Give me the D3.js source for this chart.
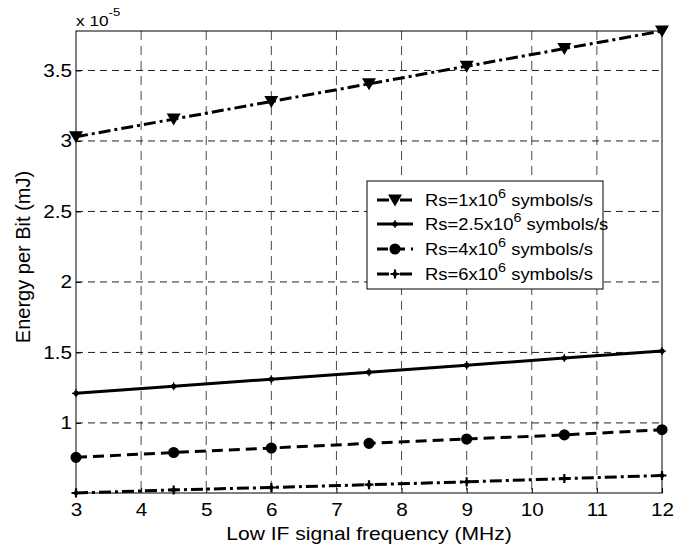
<!DOCTYPE html>
<html><head><meta charset="utf-8">
<script src="https://cdn.jsdelivr.net/npm/d3@7"></script>
<style>body{margin:0;background:#fff;} text{font-family:"Liberation Sans",Arial,sans-serif;fill:#000;}</style>
</head><body><svg id="c" width="695" height="551"></svg>
<script>
const freqs = [3, 4.5, 6, 7.5, 9, 10.5, 12];
const rs1 = [3.03, 3.155, 3.28, 3.405, 3.53, 3.655, 3.78];
const rs25 = [1.21, 1.26, 1.31, 1.36, 1.41, 1.46, 1.51];
const rs4 = [0.756, 0.79, 0.822, 0.855, 0.886, 0.915, 0.952];
const rs6 = [0.503, 0.525, 0.542, 0.562, 0.582, 0.605, 0.627];
const seriesNames = ["Rs=1x10", "Rs=2.5x10", "Rs=4x10", "Rs=6x10"];
const xTicks = [3,4,5,6,7,8,9,10,11,12];
const yTicks = [1,1.5,2,2.5,3,3.5];

const SX = 1.15; // horizontal stretch of the original figure's text
const svg = d3.select("#c");
const L=76, R=662, T=31, B=493;
const allY = rs1.concat(rs25, rs4, rs6);
const x = d3.scaleLinear().domain([3,12]).range([L,R]);
const y = d3.scaleLinear().domain([d3.min(allY), d3.max(allY)]).range([B,T]);

// grid
const g = svg.append("g");
g.selectAll(".vg").data(xTicks.filter(d=>d>3&&d<12)).join("line")
  .attr("x1",d=>x(d)).attr("x2",d=>x(d)).attr("y1",T).attr("y2",B)
  .attr("stroke","#4a4a4a").attr("stroke-width",1).attr("stroke-dasharray","9,6");
g.selectAll(".hg").data(yTicks).join("line")
  .attr("x1",L).attr("x2",R).attr("y1",d=>y(d)).attr("y2",d=>y(d))
  .attr("stroke","#222").attr("stroke-width",1).attr("stroke-dasharray","7,5");

// axes
const xAx = svg.append("g").attr("transform",`translate(0,${B})`)
  .call(d3.axisBottom(x).tickValues(xTicks).tickSize(-5).tickPadding(10).tickFormat(d3.format("d")));
const yAx = svg.append("g").attr("transform",`translate(${L},0)`)
  .call(d3.axisLeft(y).tickValues(yTicks).tickSize(-5).tickPadding(4).tickFormat(d=>String(d)));
[xAx,yAx].forEach(a=>{a.select(".domain").remove(); a.selectAll("line").attr("stroke","#000");
  a.selectAll("text").attr("font-size",18).attr("font-family","Liberation Sans, Arial, sans-serif").attr("fill","#000");});
xAx.selectAll("text").attr("dy","0.72em").attr("transform",`scale(${SX},1)`);
yAx.selectAll("text").attr("x",-4/SX).attr("transform",`scale(${SX},1)`);
svg.append("rect").attr("x",L).attr("y",T).attr("width",R-L).attr("height",B-T)
  .attr("fill","none").attr("stroke","#000").attr("stroke-width",1);

// exponent
const ex = svg.append("text").attr("transform",`translate(${L},26) scale(${SX},1)`).attr("font-size",15);
ex.append("tspan").text("x 10");
ex.append("tspan").attr("dy",-10).attr("font-size",11.5).text("-5");

// labels
svg.append("text").attr("transform",`translate(${(L+R)/2},540) scale(${SX+0.02},1)`).attr("text-anchor","middle").attr("font-size",18)
  .text("Low IF signal frequency (MHz)");
svg.append("text").attr("transform",`translate(29.5,257) rotate(-90)`).attr("text-anchor","middle").attr("font-size",20)
  .text("Energy per Bit (mJ)");

// series
const styles = [
  {data:rs1, dash:"12,4,3,4", marker:"tri"},
  {data:rs25, dash:null, marker:"dot"},
  {data:rs4, dash:"11,6", marker:"circ"},
  {data:rs6, dash:"12,4,3,4", marker:"plus"}
];
function drawMarker(sel, type, cx, cy){
  if(type==="tri"){
    sel.append("path").attr("d",`M${cx-7},${cy-5.5}L${cx+7},${cy-5.5}L${cx},${cy+6.5}Z`).attr("fill","#000");
  } else if(type==="dot"){
    sel.append("circle").attr("cx",cx).attr("cy",cy).attr("r",2.6).attr("fill","#000");
    sel.append("path").attr("d",`M${cx-4},${cy}H${cx+4}M${cx},${cy-4}V${cy+4}`).attr("stroke","#000").attr("stroke-width",1.2);
  } else if(type==="circ"){
    sel.append("circle").attr("cx",cx).attr("cy",cy).attr("r",4.8).attr("fill","#000").attr("stroke","#000").attr("stroke-width",1.5);
  } else {
    sel.append("path").attr("d",`M${cx-4.5},${cy}H${cx+4.5}M${cx},${cy-4.5}V${cy+4.5}`).attr("stroke","#000").attr("stroke-width",2.2);
    sel.append("circle").attr("cx",cx).attr("cy",cy).attr("r",2.2).attr("fill","#000");
  }
}
const line = d3.line().x((d,i)=>x(freqs[i])).y(d=>y(d));
styles.forEach(s=>{
  svg.append("path").datum(s.data).attr("d",line).attr("fill","none").attr("stroke","#000")
    .attr("stroke-width",3).attr("stroke-dasharray",s.dash);
  const mg = svg.append("g");
  s.data.forEach((v,i)=>drawMarker(mg, s.marker, x(freqs[i]), y(v)));
});

// legend
const lg = svg.append("g");
const lx=367, ly=181, lh=108, lw=236;
lg.append("rect").attr("x",lx).attr("y",ly).attr("width",lw).attr("height",lh).attr("fill","#fff").attr("stroke","#000").attr("stroke-width",1);
const rows=[200,224,249,274];
styles.forEach((s,i)=>{
  const cy=rows[i];
  lg.append("line").attr("x1",377).attr("x2",413).attr("y1",cy).attr("y2",cy).attr("stroke","#000")
    .attr("stroke-width",3).attr("stroke-dasharray",s.dash);
  drawMarker(lg, s.marker, 395, cy);
  const t = lg.append("text").attr("transform",`translate(425,${cy+6}) scale(${SX},1)`).attr("font-size",16);
  t.append("tspan").text(seriesNames[i]);
  t.append("tspan").attr("dy",-8).attr("font-size",12.5).text("6");
  t.append("tspan").attr("dy",8).text(" symbols/s");
});
</script></body></html>
